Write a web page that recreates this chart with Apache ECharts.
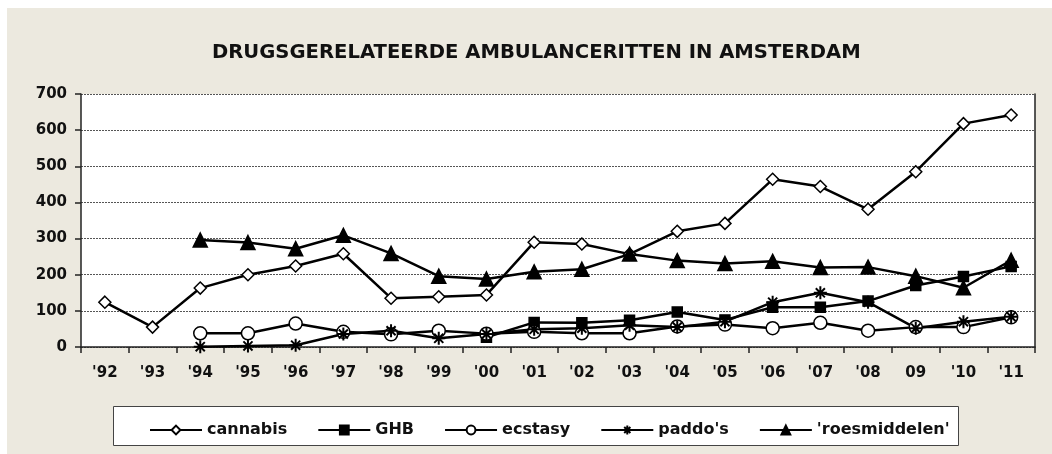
<!DOCTYPE html>
<html>
<head>
<meta charset="utf-8">
<script src="https://cdn.jsdelivr.net/npm/echarts@6/dist/echarts.min.js"></script>
<style>
html,body{margin:0;padding:0;background:#fff;}
#chart{width:1052px;height:454px;}
</style>
</head>
<body>
<div id="chart"></div>
<script>
var title = "DRUGSGERELATEERDE AMBULANCERITTEN IN AMSTERDAM";
var categories = ["'92","'93","'94","'95","'96","'97","'98","'99","'00","'01","'02","'03","'04","'05","'06","'07","'08","09","'10","'11"];
var yTicks = [0,100,200,300,400,500,600,700];
var cannabis = [124,55,163,200,224,258,135,139,144,290,285,257,320,342,464,444,381,485,618,642];
var ghb = [null,null,null,null,null,null,null,null,27,68,67,74,97,75,110,110,127,170,195,223];
var ecstasy = [null,null,38,38,65,42,35,45,37,42,38,38,57,62,52,67,45,55,55,82];
var paddos = [null,null,1,3,5,36,45,24,36,49,52,60,55,70,124,150,124,52,70,84];
var roes = [null,null,296,289,272,309,259,196,188,208,215,257,239,231,237,220,221,196,164,240];
var seriesNames = ["cannabis","GHB","ecstasy","paddo's","'roesmiddelen'"];

var FONT = "'DejaVu Sans', sans-serif";
var asterisk = 'path://M0,5L10,5M5,0L5,10M1.5,1.5L8.5,8.5M8.5,1.5L1.5,8.5';

function mk(name, data, symbol, size, fill, extra) {
  return Object.assign({
    name: name, type: 'line', data: data,
    symbol: symbol, symbolSize: size,
    connectNulls: false,
    lineStyle: {color: '#000', width: 2.5},
    itemStyle: {color: fill, borderColor: '#000', borderWidth: 1.5},
    emphasis: {disabled: true},
    animation: false
  }, extra || {});
}

var chart = echarts.init(document.getElementById('chart'), null, {renderer: 'canvas'});
chart.setOption({
  backgroundColor: '#ffffff',
  animation: false,
  title: {
    text: title, left: 207, top: 38,
    textStyle: {fontFamily: FONT, fontWeight: 'bold', fontSize: 19.6, color: '#111'}
  },
  graphic: [
    {type: 'rect', z: -10, shape: {x: 7, y: 8, width: 1045, height: 446}, style: {fill: '#ECE9DF'}},
    {type: 'rect', z: -5, shape: {x: 113.5, y: 406.5, width: 845, height: 39}, style: {fill: '#fff', stroke: '#444', lineWidth: 1}}
  ],
  legend: {
    data: seriesNames,
    left: 144, top: 417,
    itemWidth: 52, itemHeight: 11, itemGap: 30,
    textStyle: {fontFamily: FONT, fontWeight: 'bold', fontSize: 16, color: '#111'},
    selectedMode: false
  },
  grid: {left: 81, right: 17, top: 94, bottom: 107, show: true, backgroundColor: '#fff', borderWidth: 0},
  xAxis: {
    type: 'category', data: categories, boundaryGap: true,
    axisLine: {show: true, lineStyle: {color: '#222', width: 1.5}},
    axisTick: {show: true, length: 6, alignWithLabel: false, lineStyle: {color: '#222', width: 1.5}},
    axisLabel: {fontFamily: FONT, fontWeight: 'bold', fontSize: 15, color: '#111', margin: 19, interval: 0},
    splitLine: {show: false}
  },
  yAxis: [{
    type: 'value', min: yTicks[0], max: yTicks[yTicks.length-1], interval: 100,
    axisLine: {show: true, lineStyle: {color: '#222', width: 1.5}},
    axisTick: {show: true, length: 6, lineStyle: {color: '#222', width: 1.5}},
    axisLabel: {fontFamily: FONT, fontWeight: 'bold', fontSize: 15, color: '#111', margin: 14},
    splitLine: {show: true, lineStyle: {color: '#555', width: 1, type: [2, 1]}}
  }, {
    type: 'value', min: 0, max: 700, interval: 100, position: 'right',
    axisLine: {show: true, lineStyle: {color: '#222', width: 1.5}},
    axisTick: {show: false}, axisLabel: {show: false}, splitLine: {show: false}
  }],
  series: [
    mk(seriesNames[0], cannabis, 'diamond', 12, '#fff'),
    mk(seriesNames[1], ghb, 'rect', 10, '#000'),
    mk(seriesNames[2], ecstasy, 'circle', 13, '#fff'),
    mk(seriesNames[3], paddos, asterisk, 13, '#000', {itemStyle: {color: '#000', borderColor: '#000', borderWidth: 2}}),
    mk(seriesNames[4], roes, 'triangle', 14, '#000')
  ]
});
</script>
</body>
</html>
